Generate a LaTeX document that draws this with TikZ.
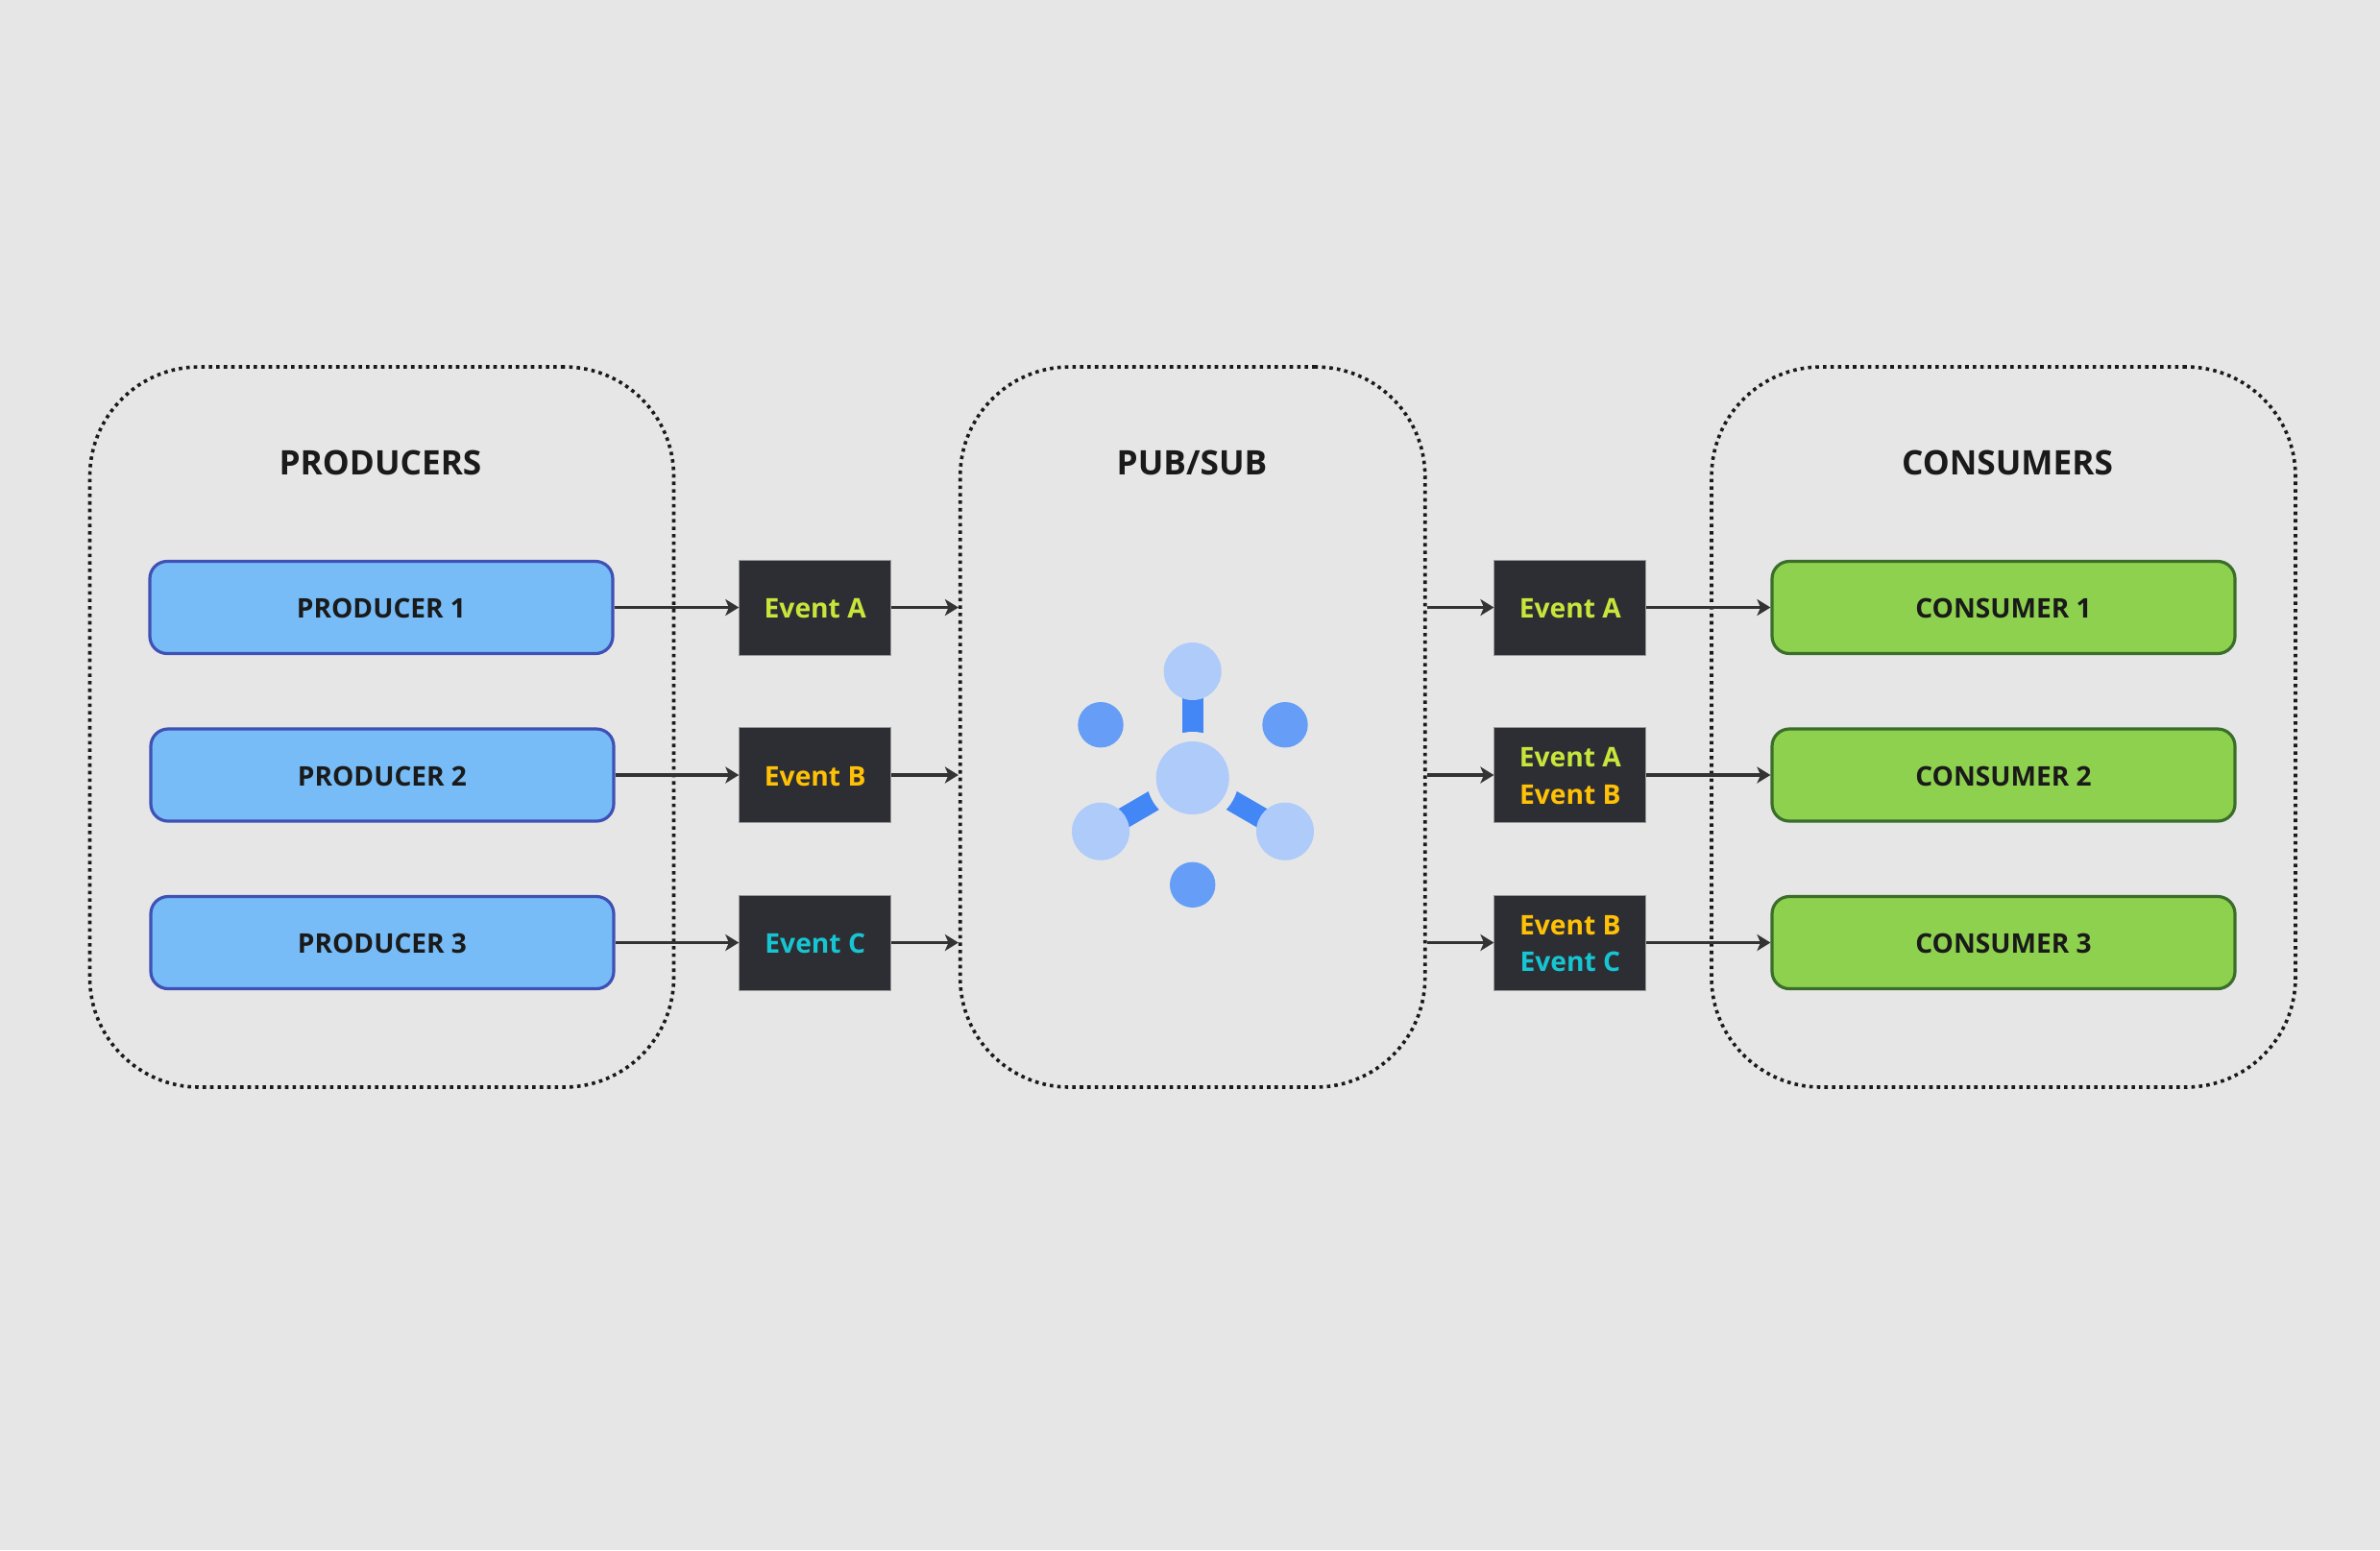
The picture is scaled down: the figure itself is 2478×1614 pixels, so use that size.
\documentclass[tikz,border=0pt]{standalone}
\usepackage{fontspec}
\setmainfont{Open Sans}
\usetikzlibrary{arrows.meta,calc}
\definecolor{bg}{HTML}{E6E6E6}
\definecolor{ink}{HTML}{1A1A1A}
\definecolor{wire}{HTML}{333333}
\definecolor{pfill}{HTML}{77BCF6}
\definecolor{pline}{HTML}{3F51B5}
\definecolor{cfill}{HTML}{8ED14F}
\definecolor{cline}{HTML}{3A6E2A}
\definecolor{evfill}{HTML}{2D2E33}
\definecolor{evA}{HTML}{C6E63C}
\definecolor{evB}{HTML}{FFC107}
\definecolor{evC}{HTML}{17C5D2}
\definecolor{netbar}{HTML}{4287F5}
\definecolor{netdot}{HTML}{669DF6}
\definecolor{netlight}{HTML}{AECBFA}
\tikzset{
  x=0.5pt,y=-0.5pt,
  zone/.style={draw=ink,line width=1.8pt,dash pattern=on 1.8pt off 2.1pt,rounded corners=57pt,minimum height=375pt,inner sep=0pt},
  ztitle/.style={font=\bfseries\fontsize{17.6}{22}\selectfont,text=ink,inner sep=0pt},
  boxlabel/.style={rounded corners=9pt,minimum width=241pt,minimum height=48pt,line width=1.6pt,inner sep=0pt,text=ink,text height=11.2pt,text depth=0pt,font=\bfseries\fontsize{14.05}{17}\selectfont},
  prod/.style={boxlabel,draw=pline,fill=pfill},
  cons/.style={boxlabel,draw=cline,fill=cfill},
  evbox/.style={draw=gray!80,line width=0.4pt,fill=evfill,minimum width=79pt,minimum height=49.5pt,inner sep=0pt,align=center,font=\bfseries\fontsize{14.1}{19.25}\selectfont},
  evone/.style={evbox,text height=11.2pt,text depth=0pt},
  evtwo/.style={evbox,text height=30.2pt,text depth=0pt},
  link/.style={draw=wire,line width=1.9pt,-{Stealth[length=7pt,width=8.5pt,inset=1.8pt]}},
  netcore/.style={circle,fill=netlight,minimum size=38pt,inner sep=0pt},
  netsat/.style={circle,fill=netlight,minimum size=30pt,inner sep=0pt},
  netmini/.style={circle,fill=netdot,minimum size=23.7pt,inner sep=0pt},
  netgap/.style={circle,fill=bg,minimum size=48pt,inner sep=0pt},
  netlink/.style={draw=netbar,line width=11pt},
}
\begin{document}
\begin{tikzpicture}
\useasboundingbox (0,0) rectangle (2478,1614);
\fill[bg] (0,0) rectangle (2478,1614);
% dotted zones
\node[zone,minimum width=304pt] (zp) at (397.5,757) {};
\node[zone,minimum width=242pt] (zs) at (1241.7,757) {};
\node[zone,minimum width=304pt] (zc) at (2086,757) {};
\node[ztitle] (tp) at (396,482) {PRODUCERS};
\node[ztitle] (ts) at (1241,482) {PUB/SUB};
\node[ztitle] (tc) at (2090,482) {CONSUMERS};
% producers
\node[prod] (p1) at (397,632.5) {PRODUCER 1};
\node[prod] (p2) at (398,807) {PRODUCER 2};
\node[prod] (p3) at (398,981.5) {PRODUCER 3};
% consumers
\node[cons] (c1) at (2086,632.5) {CONSUMER 1};
\node[cons] (c2) at (2086,807) {CONSUMER 2};
\node[cons] (c3) at (2086,981.5) {CONSUMER 3};
% events, left
\node[evone] (ea) at (848.7,632.5) {\textcolor{evA}{Event A}};
\node[evone] (eb) at (848.7,807) {\textcolor{evB}{Event B}};
\node[evone] (ec) at (848.7,981.5) {\textcolor{evC}{Event C}};
% events, right
\node[evone] (fa) at (1634.8,632.5) {\textcolor{evA}{Event A}};
\node[evtwo] (fb) at (1634.8,807) {\textcolor{evA}{Event A}\\\textcolor{evB}{Event B}};
\node[evtwo] (fc) at (1634.8,981.5) {\textcolor{evB}{Event B}\\\textcolor{evC}{Event C}};
% connectors
\foreach \p/\e/\f/\c in {p1/ea/fa/c1,p2/eb/fb/c2,p3/ec/fc/c3}{
  \draw[link] (\p.east) -- (\e.west);
  \draw[link] (\e.east) -- (\e.east -| zs.west);
  \draw[link] (\f.west -| zs.east) -- (\f.west);
  \draw[link] (\f.east) -- (\c.west);
}
% network glyph
\coordinate (hubc) at (1241.7,810);
\coordinate (satt) at (1241.7,699);
\coordinate (satl) at (1146,865.7);
\coordinate (satr) at (1338,865.7);
\draw[netlink] (hubc) -- (satt);
\draw[netlink] (hubc) -- (satl);
\draw[netlink] (hubc) -- (satr);
\node[netgap] (hubgap) at (hubc) {};
\node[netcore] (hub) at (hubc) {};
\node[netsat] (st) at (satt) {};
\node[netsat] (sl) at (satl) {};
\node[netsat] (sr) at (satr) {};
\node[netmini] (m1) at (1146,754.7) {};
\node[netmini] (m2) at (1338,754.7) {};
\node[netmini] (m3) at (1241.7,921.3) {};
\end{tikzpicture}
\end{document}
